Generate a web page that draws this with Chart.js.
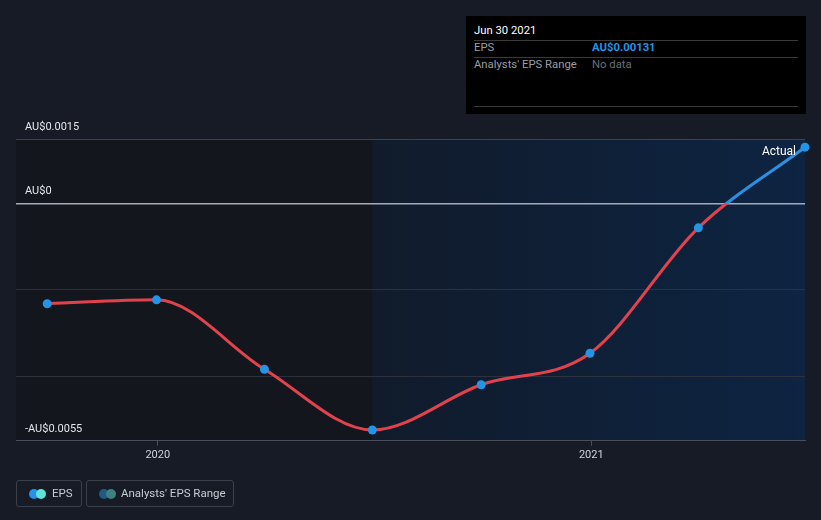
<!DOCTYPE html>
<html>
<head>
<meta charset="utf-8">
<script src="https://cdn.jsdelivr.net/npm/chart.js@4"></script>
<style>
    body { margin: 0; background: #161b26; font-family: Roboto, sans-serif; }
    #wrap { position: relative; width: 821px; height: 520px; }
    #tip { position: absolute; left: 466px; top: 16px; width: 340px; height: 98px; background: #000; font-size: 11.3px; }
    #tip .row { position: absolute; left: 8px; right: 8px; }
    #tip .sep { position: absolute; left: 8px; right: 8px; height: 1px; background: #3a3a3a; }
    .legend { position: absolute; top: 480px; height: 27px; border: 1px solid #3b404b; border-radius: 3px; color: #c8ccd2; font-size: 11.5px; line-height: 25px; box-sizing: border-box; }
    .dot { position: absolute; top: 8px; width: 10px; height: 10px; border-radius: 50%; }
</style>
</head>
<body>
<div id="wrap">
    <canvas id="epsChart" width="821" height="520"></canvas>
    <div id="tip">
        <div class="row" style="top:8px;color:#fff">Jun 30 2021</div>
        <div class="sep" style="top:24px"></div>
        <div class="row" style="top:25px;color:#9a9ea6">EPS</div>
        <div class="row" style="top:25px;left:126px;color:#2394e6;font-weight:bold">AU$0.00131</div>
        <div class="sep" style="top:41px"></div>
        <div class="row" style="top:42px;color:#9a9ea6">Analysts' EPS Range</div>
        <div class="row" style="top:42px;left:126px;color:#6b6f76">No data</div>
        <div class="sep" style="top:90px"></div>
    </div>
    <div class="legend" style="left:16px;width:66px">
        <span class="dot" style="left:12px;background:#2394e6"></span>
        <span class="dot" style="left:19px;background:#5fe3d6"></span>
        <span style="position:absolute;left:35px">EPS</span>
    </div>
    <div class="legend" style="left:86px;width:148px">
        <span class="dot" style="left:12px;background:#1f5b83"></span>
        <span class="dot" style="left:19px;background:#3f8080"></span>
        <span style="position:absolute;left:34px">Analysts' EPS Range</span>
    </div>
</div>
<script>
// period ends as fractional years (Sep 30 2019 .. Jun 30 2021)
const periods = [2019.745, 2019.997, 2020.246, 2020.495, 2020.746, 2020.997, 2021.247, 2021.493];
const epsValues = [-0.00232, -0.00223, -0.00384, -0.00525, -0.0042, -0.00347, -0.00056, 0.00131];
const yTicks = [-0.0055, -0.004, -0.002, 0, 0.0015];
const yLabels = { '-0.0055': '-AU$0.0055', '0': 'AU$0', '0.0015': 'AU$0.0015' };
const xTicks = [2020, 2021];
const forecastStart = 2020.495;

const points = periods.map((p, i) => ({ x: p, y: epsValues[i] }));

function lineColor(context) {
    const chart = context.chart;
    const area = chart.chartArea;
    if (!area) return '#e0434c';
    const zero = chart.scales.y.getPixelForValue(0);
    let f = (zero - area.top) / (area.bottom - area.top);
    f = Math.min(Math.max(f, 0), 1);
    const g = chart.ctx.createLinearGradient(0, area.top, 0, area.bottom);
    g.addColorStop(0, '#2d8fe0');
    g.addColorStop(f, '#2d8fe0');
    g.addColorStop(f, '#e0434c');
    g.addColorStop(1, '#e0434c');
    return g;
}

const backdrop = {
    id: 'backdrop',
    beforeDraw(chart) {
        const { ctx, chartArea: a, scales } = chart;
        ctx.save();
        ctx.fillStyle = '#161b26';
        ctx.fillRect(0, 0, chart.width, chart.height);
        const split = scales.x.getPixelForValue(forecastStart);
        ctx.fillStyle = '#13161d';
        ctx.fillRect(a.left, a.top, split - a.left, a.bottom - a.top);
        const g = ctx.createLinearGradient(split, 0, a.right, 0);
        g.addColorStop(0, '#111b2b');
        g.addColorStop(1, '#0d2442');
        ctx.fillStyle = g;
        ctx.fillRect(split, a.top, a.right - split, a.bottom - a.top);
        ctx.restore();
    },
    afterDatasetsDraw(chart) {
        const { ctx, scales, chartArea } = chart;
        ctx.save();
        // y labels sit inside the plot, just above their grid line
        ctx.font = '11px Roboto';
        ctx.fillStyle = '#e4e6ea';
        ctx.textAlign = 'left';
        ctx.textBaseline = 'middle';
        scales.y.ticks.forEach(t => {
            const label = yLabels[String(t.value)];
            if (label) ctx.fillText(label, chartArea.left + 9, scales.y.getPixelForValue(t.value) - 12);
        });
        const last = points[points.length - 1];
        const px = scales.x.getPixelForValue(last.x);
        const py = scales.y.getPixelForValue(last.y);
        ctx.font = '12px Roboto';
        ctx.fillStyle = '#ffffff';
        ctx.textAlign = 'right';
        ctx.fillText('Actual', px - 9, py + 5);
        ctx.restore();
    }
};

new Chart(document.getElementById('epsChart'), {
    type: 'line',
    data: {
        datasets: [{
            label: 'EPS',
            data: points,
            borderColor: lineColor,
            borderWidth: 3,
            cubicInterpolationMode: 'monotone',
            pointRadius: 4.5,
            pointBackgroundColor: '#2394e6',
            pointBorderWidth: 0,
            clip: false
        }]
    },
    options: {
        responsive: false,
        animation: false,
        layout: { padding: { left: 16, right: 16, top: 139, bottom: 55 } },
        plugins: { legend: { display: false }, tooltip: { enabled: false } },
        scales: {
            x: {
                type: 'linear',
                min: 2019.673,
                max: 2021.493,
                afterBuildTicks: (axis) => { axis.ticks = xTicks.map(v => ({ value: v })); },
                ticks: { color: '#d0d3d8', font: { family: 'Roboto', size: 11 }, padding: 3, callback: (v) => String(v) },
                grid: { drawOnChartArea: false, drawTicks: true, tickLength: 5, color: '#4a4f5a' },
                border: { display: true, color: '#4a4f5a' }
            },
            y: {
                min: -0.0055,
                max: 0.0015,
                afterBuildTicks: (axis) => { axis.ticks = yTicks.map(v => ({ value: v })); },
                ticks: { display: false },
                grid: {
                    drawTicks: false,
                    color: (c) => c.tick.value === 0 ? '#a3abba' : (c.tick.value === 0.0015 ? '#3d424d' : '#2c313b'),
                    lineWidth: (c) => c.tick.value === 0 ? 1.5 : 1
                },
                border: { display: false }
            }
        }
    },
    plugins: [backdrop]
});
</script>
</body>
</html>
